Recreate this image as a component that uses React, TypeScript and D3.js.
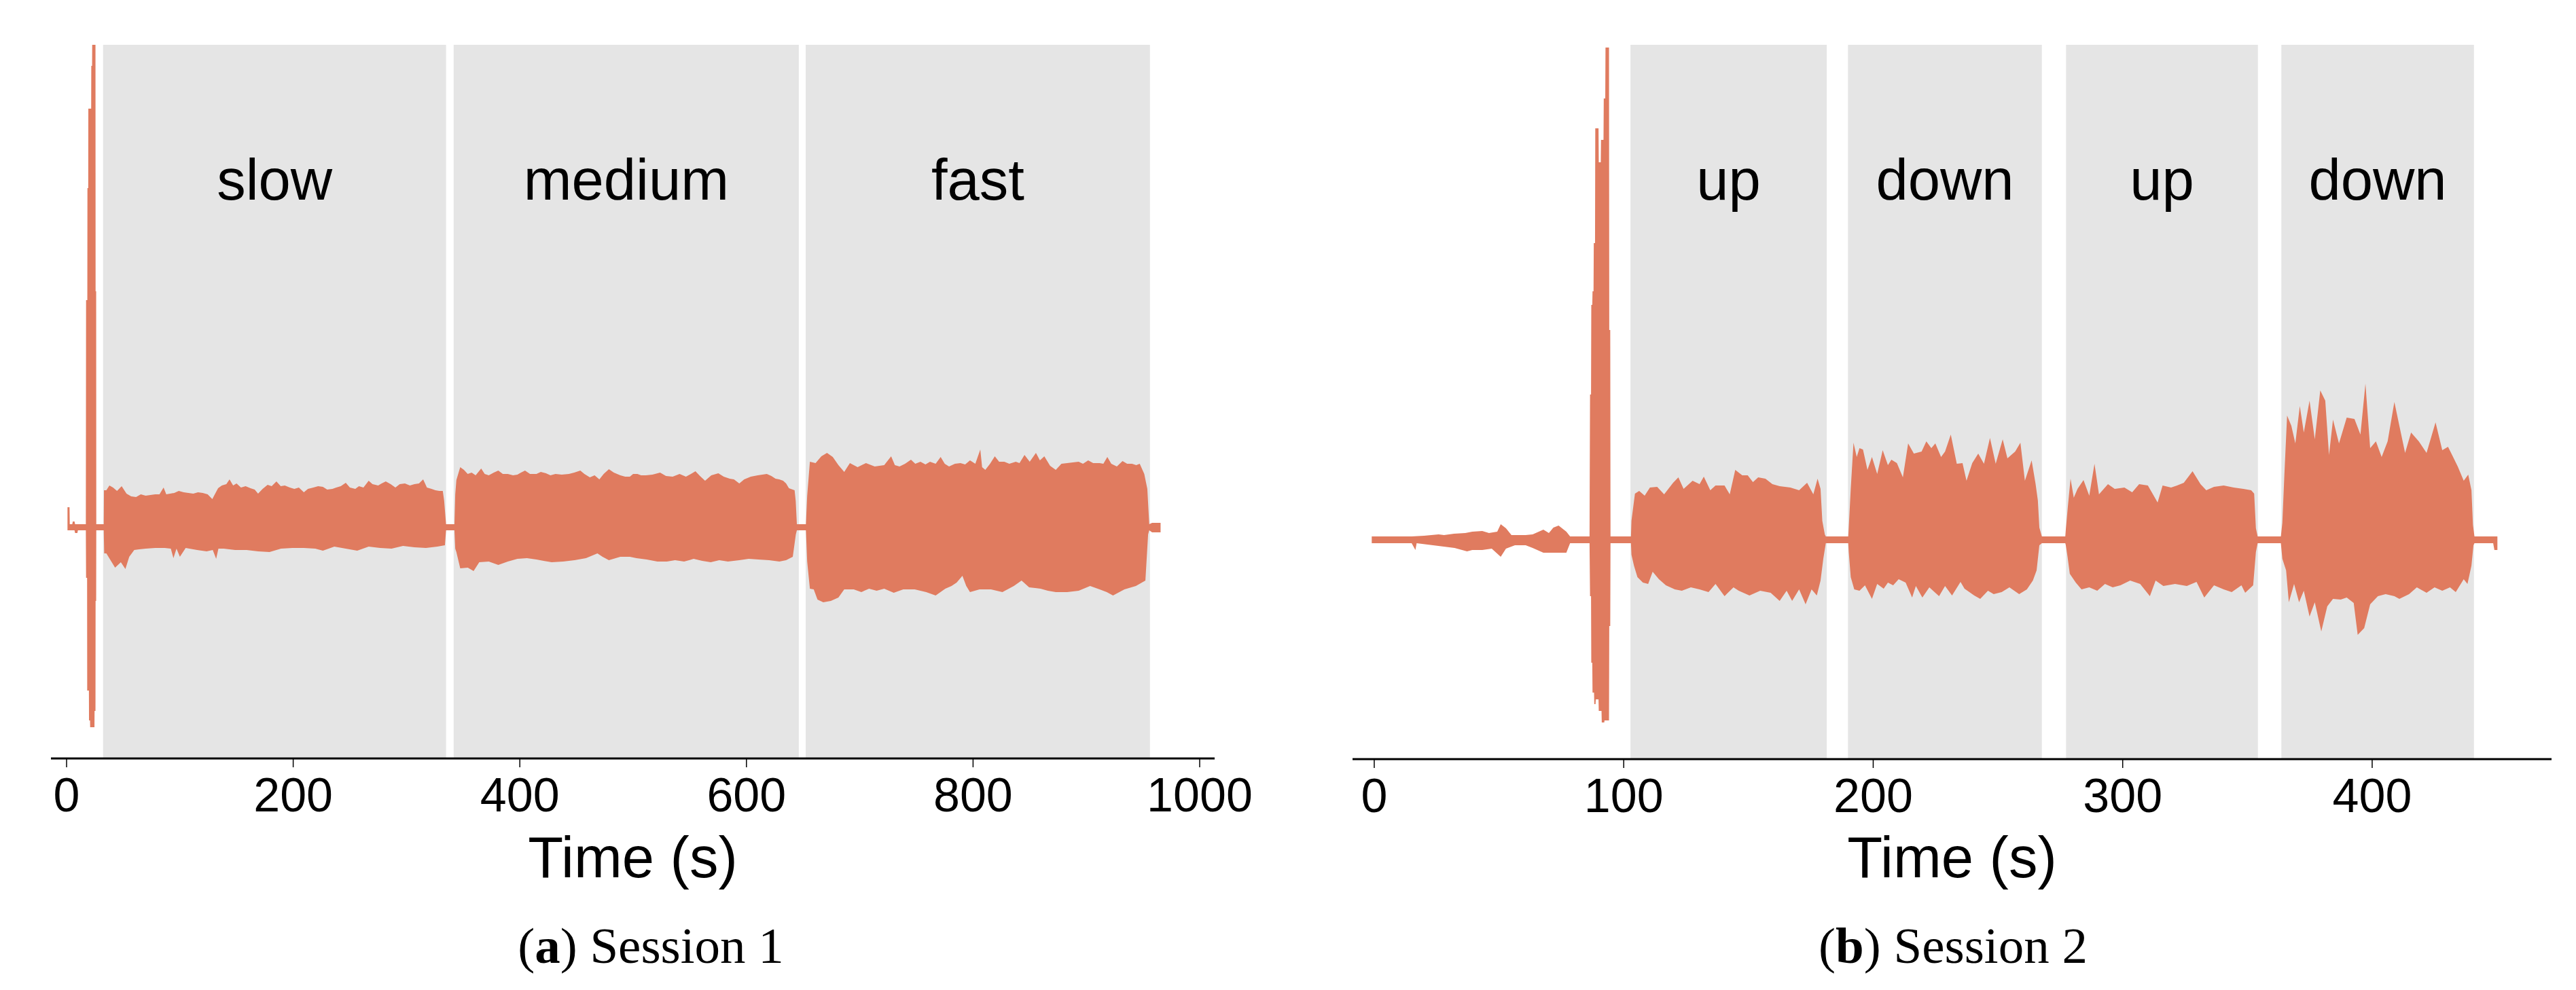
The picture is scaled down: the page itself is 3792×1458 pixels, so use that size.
import React from "react";
import * as d3 from "d3";

type Pt = [number, number];

// envelope of the signal, [time (s), amplitude] — upper edge and lower edge
const session1Upper: Pt[] = [
  [0.8, 0.31], [2.6, 0.31], [2.8, 0.06], [5, 0.06], [5.5, 0.1], [7, 0.1], [7.5, 0.06], [17.0, 0.06],
  [17.2, 3.36], [18.3, 3.36], [18.4, 5.01], [19.1, 5.01], [19.2, 6.18], [21.7, 6.18], [21.8, 6.81],
  [22.5, 6.81], [22.6, 7.12], [25.5, 7.12], [25.6, 3.49], [26.1, 3.49], [26.2, 0.06], [32.8, 0.06],
  [33.0, 0.56], [35.1, 0.56], [37.8, 0.63], [41, 0.6], [44.5, 0.55], [48.6, 0.62], [52.9, 0.51],
  [57, 0.47], [61.3, 0.46], [65.5, 0.5], [69.8, 0.48], [74, 0.49], [78.2, 0.5], [82, 0.5],
  [85.6, 0.6], [88, 0.5], [95.0, 0.52], [99, 0.55], [103.4, 0.53], [107.5, 0.52], [111.8, 0.51],
  [116, 0.53], [120.2, 0.52], [124.5, 0.5], [128.6, 0.43], [133.7, 0.59], [137, 0.63], [141, 0.65],
  [143.8, 0.72], [147, 0.63], [150, 0.66], [153.9, 0.6], [158, 0.62], [162.3, 0.59], [166, 0.57],
  [169.0, 0.51], [173, 0.58], [177.4, 0.64], [181, 0.62], [185.2, 0.69], [189, 0.62], [192.6, 0.63],
  [197, 0.6], [201.0, 0.58], [205, 0.6], [209.4, 0.53], [213, 0.58], [217.8, 0.6], [222, 0.62],
  [226.2, 0.61], [230, 0.57], [234.6, 0.58], [238, 0.6], [242, 0.62], [246.4, 0.67], [250, 0.6],
  [254.8, 0.58], [258, 0.62], [262, 0.6], [266.6, 0.7], [270, 0.65], [275.0, 0.63], [278, 0.66],
  [281.7, 0.69], [286, 0.65], [290.2, 0.6], [294, 0.65], [298.6, 0.66], [303, 0.63], [307.0, 0.65],
  [311, 0.66], [314.7, 0.72], [318, 0.6], [322.1, 0.58], [325.5, 0.56], [328.9, 0.55], [332, 0.55],
  [333.2, 0.41], [334.9, 0.06], [342.3, 0.06],
  [343, 0.5], [344.0, 0.71], [347.4, 0.9], [350.7, 0.86], [354, 0.8], [357.5, 0.82], [361, 0.78],
  [365.9, 0.88], [369, 0.8], [372.6, 0.78], [377, 0.82], [381.0, 0.85], [385, 0.8], [389.4, 0.8],
  [394, 0.78], [397.9, 0.79], [401, 0.82], [404.6, 0.85], [409, 0.8], [414.7, 0.8], [418.5, 0.83],
  [423.1, 0.81], [427, 0.78], [431.5, 0.8], [437, 0.79], [443.3, 0.8], [448, 0.82], [453.4, 0.85],
  [457, 0.8], [461.8, 0.75], [466, 0.78], [470.2, 0.72], [474, 0.8], [478.6, 0.87], [483, 0.82],
  [488.7, 0.78], [493, 0.76], [497.1, 0.76], [500, 0.8], [503.8, 0.8], [507, 0.78], [511.3, 0.78],
  [517, 0.79], [523.8, 0.82], [529, 0.77], [534.9, 0.76], [541, 0.8], [546.6, 0.76], [551, 0.8],
  [555.0, 0.84], [559, 0.77], [563.5, 0.7], [569, 0.78], [575.2, 0.81], [580, 0.76], [585.3, 0.73],
  [589, 0.72], [593.7, 0.66], [598, 0.72], [603.8, 0.76], [610, 0.78], [618.0, 0.8], [622, 0.77],
  [625.7, 0.73], [629, 0.72], [632.4, 0.7], [635, 0.66], [637.5, 0.59], [642.5, 0.56], [643.5, 0.4],
  [644.5, 0.06], [652.5, 0.06],
  [653.6, 0.48], [656, 0.98], [661, 0.96], [666.1, 1.06], [671.1, 1.11], [676.2, 1.05], [681.2, 0.93],
  [686.3, 0.83], [691.3, 0.96], [698.1, 0.9], [705.5, 0.96], [713.2, 0.91], [721.6, 0.93], [727.7, 1.06],
  [731, 0.93], [735.1, 0.91], [740, 0.95], [745.2, 1.01], [749, 0.95], [753.6, 0.98], [758, 0.94],
  [762, 0.98], [767, 0.95], [771.4, 1.05], [775, 0.95], [778.8, 0.91], [784, 0.95], [788.9, 0.96],
  [793, 0.94], [797.3, 1.0], [802, 0.95], [806.4, 1.16], [808, 0.9], [810.8, 0.86], [815, 0.95],
  [819.2, 1.06], [823, 0.98], [827.6, 0.98], [832, 0.95], [837.7, 0.98], [841, 0.96], [845.4, 1.08],
  [850, 0.98], [855.5, 1.11], [859, 1.0], [862.9, 1.06], [868, 0.92], [873, 0.86], [878, 0.95],
  [883.1, 0.96], [888, 0.97], [893.2, 0.98], [897, 0.95], [901.6, 1.0], [906, 0.96], [911.7, 0.96],
  [915, 0.95], [918.5, 1.05], [922, 0.95], [926.9, 0.91], [931.9, 0.99], [936, 0.95], [940.3, 0.95],
  [944, 0.93], [947.1, 0.95], [951.1, 0.8], [953.8, 0.58], [955.5, 0.06], [958, 0.08], [965.5, 0.08],
];

const session1Lower: Pt[] = [
  [0.8, -0.03], [7, -0.03], [7.5, -0.07], [9.5, -0.07], [10, -0.03], [17.0, -0.03],
  [17.2, -0.73], [18.1, -0.73], [18.2, -2.39], [19.7, -2.39], [19.8, -2.83], [20.7, -2.83],
  [20.8, -2.93], [24.6, -2.93], [24.7, -2.69], [25.5, -2.69], [25.6, -1.07], [26.1, -1.07],
  [26.2, -0.03], [32.8, -0.03],
  [33.2, -0.37], [35.1, -0.37], [39.5, -0.49], [42.8, -0.58], [47.9, -0.5], [51.9, -0.6], [55.3, -0.42],
  [59.7, -0.32], [64, -0.31], [69.8, -0.3], [78.2, -0.29], [86.6, -0.29], [92, -0.3], [94.3, -0.44],
  [97, -0.3], [100, -0.42], [105.1, -0.29], [115.2, -0.32], [123.6, -0.34], [129, -0.32], [132, -0.45],
  [134, -0.3], [138.7, -0.3], [148.8, -0.32], [158.9, -0.32], [169, -0.34], [179.1, -0.35],
  [189.2, -0.3], [199.3, -0.29], [209.4, -0.29], [219.5, -0.3], [226.2, -0.33], [236.3, -0.27],
  [246.4, -0.3], [256.5, -0.33], [266.6, -0.27], [276.7, -0.29], [286.8, -0.3], [296.9, -0.26],
  [307, -0.28], [317.1, -0.29], [327.2, -0.27], [333.9, -0.25], [334.9, -0.03], [342.3, -0.03],
  [343, -0.3], [344.0, -0.35], [347.4, -0.59], [354.1, -0.58], [359.2, -0.63], [364.2, -0.5],
  [372.6, -0.49], [381, -0.54], [389.4, -0.49], [397.9, -0.45], [406.3, -0.44], [414.7, -0.46],
  [421, -0.48], [428.1, -0.5], [438.2, -0.49], [448.3, -0.47], [458.4, -0.44], [468.5, -0.37],
  [473, -0.42], [478.6, -0.47], [488.7, -0.42], [497.1, -0.42], [502.9, -0.44], [512, -0.46],
  [521.4, -0.49], [529.8, -0.49], [537, -0.47], [545, -0.49], [553.4, -0.45], [561, -0.48],
  [568.5, -0.5], [576, -0.47], [583.7, -0.49], [593.7, -0.47], [602, -0.45], [610.6, -0.46],
  [620, -0.47], [629.1, -0.49], [635, -0.47], [640.9, -0.42], [643.6, -0.09], [644.5, -0.03],
  [652.5, -0.03],
  [653.6, -0.49], [656, -0.89], [659.4, -0.9], [662.7, -1.05], [667.8, -1.09], [674.5, -1.07],
  [681.2, -1.02], [686.3, -0.9], [694.7, -0.9], [701.4, -0.94], [708.2, -0.89], [714.9, -0.92],
  [721.6, -0.89], [730, -0.95], [738.4, -0.9], [748.5, -0.9], [758.6, -0.94], [767, -0.99],
  [775.5, -0.89], [781, -0.85], [785.5, -0.8], [790.6, -0.7], [794, -0.85], [797.3, -0.94],
  [805.7, -0.9], [815.8, -0.9], [825.9, -0.94], [836, -0.85], [842.8, -0.77], [849.5, -0.87],
  [859.6, -0.89], [866, -0.92], [873, -0.94], [883.1, -0.94], [893.2, -0.92], [903.3, -0.85],
  [911.7, -0.9], [918, -0.94], [923.5, -0.99], [933.6, -0.9], [943.7, -0.85], [952.1, -0.77],
  [954.5, -0.09], [955.5, -0.03], [958, -0.06], [965.5, -0.06],
];

const session2Upper: Pt[] = [
  [-1, 0.05], [15, 0.05], [20, 0.06], [25.8, 0.08], [28, 0.07], [32, 0.09], [36.5, 0.1], [39.3, 0.12],
  [43.3, 0.13], [46, 0.1], [49.3, 0.12], [50.7, 0.23], [52.8, 0.17], [55, 0.07], [60.7, 0.07],
  [63.5, 0.08], [67.8, 0.15], [70, 0.1], [71.8, 0.18], [73.9, 0.21], [77.0, 0.12], [78.5, 0.05],
  [86.3, 0.05],
  [86.5, 2.14], [86.9, 2.14], [87.0, 3.46], [87.4, 3.46], [87.5, 3.66], [87.9, 3.66], [88.0, 4.37],
  [88.5, 4.37], [88.6, 6.06], [89.9, 6.06], [90.0, 5.56], [90.8, 5.56], [90.9, 5.89], [91.9, 5.89],
  [92.0, 6.5], [92.6, 6.5], [92.7, 7.25], [94.1, 7.25], [94.2, 3.09], [94.6, 3.09], [94.7, 0.05],
  [102.9, 0.05],
  [103.1, 0.28], [104.5, 0.68], [106.2, 0.72], [108.4, 0.65], [110.5, 0.77], [113.4, 0.78],
  [116.2, 0.67], [119.8, 0.84], [121.9, 0.92], [124.0, 0.75], [127.6, 0.87], [130.4, 0.82],
  [132.1, 0.93], [134.7, 0.73], [136.8, 0.8], [140.4, 0.8], [142.5, 0.67], [144.7, 1.03],
  [147.5, 0.95], [149.7, 0.95], [151.8, 0.85], [153.9, 0.92], [156.8, 0.9], [159.6, 0.82],
  [162.5, 0.79], [166.8, 0.77], [170.3, 0.73], [173.5, 0.84], [176.0, 0.67], [177.7, 0.9],
  [178.9, 0.75], [179.6, 0.28], [180.6, 0.08], [181.0, 0.05], [190.0, 0.05],
  [190.2, 0.18], [191.0, 0.75], [192.1, 1.43], [193.4, 1.22], [194.5, 1.35], [195.9, 1.33],
  [197.7, 1.03], [199.5, 1.22], [201.6, 0.97], [203.8, 1.32], [205.9, 1.1], [207.3, 1.18],
  [209.5, 1.13], [211.9, 0.92], [214.0, 1.42], [216.3, 1.27], [219.4, 1.3], [221.3, 1.45],
  [223.3, 1.35], [224.9, 1.42], [227.2, 1.22], [228.8, 1.3], [231.1, 1.55], [233.5, 1.12],
  [235.8, 1.13], [237.4, 0.87], [239.7, 1.13], [242.1, 1.27], [244.4, 1.12], [246.8, 1.5],
  [249.1, 1.12], [251.9, 1.48], [253.8, 1.2], [256.9, 1.3], [259.0, 1.43], [260.8, 0.87],
  [263.5, 1.17], [265.1, 0.82], [266.0, 0.58], [266.6, 0.18], [267.6, 0.05], [277.0, 0.05],
  [277.2, 0.15], [278.0, 0.48], [279.1, 0.9], [280.4, 0.62], [281.9, 0.75], [284.3, 0.88],
  [286.6, 0.65], [288.7, 1.12], [290.5, 0.67], [294.1, 0.82], [296.8, 0.75], [300.7, 0.77],
  [303.8, 0.7], [306.6, 0.82], [310.1, 0.8], [314.0, 0.55], [316.0, 0.8], [319.4, 0.77],
  [321.8, 0.8], [324.5, 0.84], [328.0, 1.01], [331.2, 0.82], [333.5, 0.73], [336.6, 0.78],
  [340.5, 0.8], [344.5, 0.77], [348.4, 0.75], [351.5, 0.73], [352.7, 0.68], [353.4, 0.17],
  [354.1, 0.05], [363.4, 0.05],
  [364.0, 0.25], [364.8, 0.95], [365.9, 1.83], [367.6, 1.68], [369.2, 1.42], [371.0, 1.97],
  [372.6, 1.58], [374.9, 2.05], [377.0, 1.48], [379.2, 2.2], [381.2, 2.05], [382.7, 1.25],
  [384.3, 1.77], [386.7, 1.42], [389.8, 1.8], [392.9, 1.78], [395.3, 1.55], [397.3, 2.3],
  [399.2, 1.35], [401.5, 1.45], [403.8, 1.22], [406.2, 1.45], [408.9, 2.03], [410.9, 1.68],
  [413.2, 1.28], [415.6, 1.58], [418.7, 1.45], [421.8, 1.28], [425.4, 1.73], [428.1, 1.32],
  [430.4, 1.37], [432.3, 1.23], [434.3, 1.08], [436.7, 0.87], [438.5, 0.96], [439.8, 0.73],
  [440.4, 0.22], [441.0, 0.05], [450.2, 0.05],
];

const session2Lower: Pt[] = [
  [-1, -0.05], [15, -0.05], [16.5, -0.15], [17, -0.05], [27.9, -0.1], [32.2, -0.12], [37.2, -0.17],
  [39.3, -0.15], [43.3, -0.15], [47.1, -0.13], [50.7, -0.25], [52.8, -0.13], [56.4, -0.08],
  [60.7, -0.08], [63.5, -0.12], [67.8, -0.19], [71.8, -0.19], [73.9, -0.19], [77.0, -0.19],
  [78.5, -0.05], [86.3, -0.05],
  [86.5, -0.83], [86.9, -0.83], [87.0, -1.81], [87.4, -1.81], [87.5, -2.25], [88.1, -2.25],
  [88.2, -2.42], [88.7, -2.42], [88.8, -2.35], [89.9, -2.35], [90.0, -2.52], [91.1, -2.52],
  [91.2, -2.69], [92.2, -2.69], [92.3, -2.66], [94.1, -2.66], [94.2, -1.27], [94.6, -1.27],
  [94.7, -0.05], [102.9, -0.05],
  [103.1, -0.22], [104.1, -0.38], [105.5, -0.55], [107.7, -0.63], [109.8, -0.65], [111.6, -0.47],
  [114.1, -0.58], [116.9, -0.67], [120.5, -0.73], [123.3, -0.75], [126.9, -0.7], [130.4, -0.73],
  [134.0, -0.77], [136.8, -0.65], [140.4, -0.83], [144.0, -0.7], [146.1, -0.75], [150.4, -0.82],
  [154.7, -0.75], [158.9, -0.78], [162.5, -0.9], [165.3, -0.75], [167.5, -0.9], [170.3, -0.73],
  [172.9, -0.95], [175.3, -0.73], [177.4, -0.82], [178.9, -0.6], [180.0, -0.28], [181.0, -0.05],
  [190.0, -0.05],
  [190.2, -0.18], [191.0, -0.55], [192.4, -0.73], [194.5, -0.75], [196.7, -0.67], [199.5, -0.87],
  [201.6, -0.65], [204.2, -0.72], [205.9, -0.63], [208.0, -0.67], [210.2, -0.58], [213.0, -0.63],
  [215.6, -0.85], [217.1, -0.68], [219.7, -0.85], [222.5, -0.7], [226.4, -0.83], [228.8, -0.68],
  [231.6, -0.82], [235.0, -0.62], [236.6, -0.72], [240.5, -0.82], [242.9, -0.87], [246.0, -0.75],
  [248.3, -0.8], [251.5, -0.77], [254.6, -0.7], [258.5, -0.8], [261.6, -0.73], [264.0, -0.6],
  [265.5, -0.45], [266.6, -0.08], [267.6, -0.05], [277.0, -0.05],
  [277.2, -0.08], [277.9, -0.25], [278.8, -0.5], [281.2, -0.63], [283.5, -0.73], [286.6, -0.7],
  [289.8, -0.75], [292.9, -0.65], [296.0, -0.7], [299.1, -0.67], [303.0, -0.6], [307.0, -0.65],
  [310.9, -0.83], [313.2, -0.6], [316.3, -0.68], [321.0, -0.65], [325.7, -0.68], [329.6, -0.62],
  [332.7, -0.85], [336.6, -0.67], [340.5, -0.73], [343.7, -0.77], [347.6, -0.67], [349.1, -0.78],
  [352.3, -0.67], [353.4, -0.18], [354.1, -0.05], [363.4, -0.05],
  [364.0, -0.28], [365.5, -0.45], [366.6, -0.92], [368.7, -0.65], [370.7, -0.92], [372.6, -0.75],
  [374.9, -1.13], [377.0, -0.92], [379.6, -1.35], [382.0, -0.98], [384.3, -0.87], [387.4, -0.88],
  [389.8, -0.85], [392.6, -0.93], [394.2, -1.4], [396.8, -1.3], [399.2, -0.95], [402.3, -0.83],
  [405.4, -0.8], [408.9, -0.83], [410.9, -0.87], [414.8, -0.8], [417.9, -0.7], [421.8, -0.78],
  [425.0, -0.7], [428.1, -0.75], [431.2, -0.7], [433.5, -0.77], [436.7, -0.58], [438.2, -0.65],
  [439.8, -0.38], [440.6, -0.08], [441.0, -0.05], [448.5, -0.05], [449, -0.15], [450.2, -0.15],
];

const session1Phases = ["slow", "medium", "fast"];
const session1Bands: [number, number][] = [[32.2, 334.9], [341.6, 646.2], [652.3, 956.1]];
const session1Ticks = [0, 200, 400, 600, 800, 1000];

const session2Phases = ["up", "down", "up", "down"];
const session2Bands: [number, number][] = [[102.7, 181.4], [189.9, 267.6], [277.3, 354.2], [363.6, 440.8]];
const session2Ticks = [0, 100, 200, 300, 400];

const SIGNAL = "#e07b5f";
const BAND = "#e5e5e5";
const SANS = "'Liberation Sans', Arial, sans-serif";
const SERIF = "'Liberation Serif', 'Times New Roman', serif";

const Panel = (props: {
  xDomain: [number, number];
  xRange: [number, number];
  yDomain: [number, number];
  yRange: [number, number];
  upper: Pt[];
  lower: Pt[];
  bands: [number, number][];
  phases: string[];
  ticks: number[];
  letter: string;
  caption: string;
  captionX: number;
}) => {
  const x = d3.scaleLinear().domain(props.xDomain).range(props.xRange);
  const y = d3.scaleLinear().domain(props.yDomain).range(props.yRange);
  const line = d3
    .line<Pt>()
    .x(d => x(d[0]))
    .y(d => y(d[1]));
  const outline = line(props.upper.concat(props.lower.slice().reverse())) + "Z";
  const [top, bottom] = [props.yRange[1], props.yRange[0]];
  const mid = (props.xRange[0] + props.xRange[1]) / 2;

  return (
    <g>
      {props.bands.map((b, i) => (
        <g key={i}>
          <rect x={x(b[0])} y={top} width={x(b[1]) - x(b[0])} height={bottom - top} fill={BAND}/>
          <text
            x={(x(b[0]) + x(b[1])) / 2}
            y={294}
            textAnchor="middle"
            fontFamily={SANS}
            fontSize={85}
          >
            {props.phases[i]}
          </text>
        </g>
      ))}
      <path d={outline} fill={SIGNAL} stroke="none"/>
      <line x1={props.xRange[0]} x2={props.xRange[1]} y1={bottom} y2={bottom} stroke="#000" strokeWidth={3}/>
      {props.ticks.map(t => (
        <g key={t} transform={`translate(${x(t)},${bottom})`}>
          <line y1={0} y2={13} stroke="#000" strokeWidth={1.5}/>
          <text y={78} textAnchor="middle" fontFamily={SANS} fontSize={70}>{t}</text>
        </g>
      ))}
      <text x={mid} y={1292} textAnchor="middle" fontFamily={SANS} fontSize={85}>Time (s)</text>
      <text x={props.captionX} y={1418} textAnchor="middle" fontFamily={SERIF} fontSize={75}>
        (<tspan fontWeight="bold">{props.letter}</tspan>) {props.caption}
      </text>
    </g>
  );
};

const App = () => (
  <svg
    width={3792}
    height={1458}
    style={{position: "absolute", left: 0, top: 0, background: "#fff"}}
  >
    <rect width={3792} height={1458} fill="#fff"/>
    <Panel
      xDomain={[-13.8, 1013.2]}
      xRange={[75, 1788]}
      yDomain={[-3.39, 7.12]}
      yRange={[1117, 66]}
      upper={session1Upper}
      lower={session1Lower}
      bands={session1Bands}
      phases={session1Phases}
      ticks={session1Ticks}
      letter="a"
      caption="Session 1"
      captionX={958}
    />
    <Panel
      xDomain={[-8.7, 471.9]}
      xRange={[1991, 3756]}
      yDomain={[-3.23, 7.29]}
      yRange={[1118, 66]}
      upper={session2Upper}
      lower={session2Lower}
      bands={session2Bands}
      phases={session2Phases}
      ticks={session2Ticks}
      letter="b"
      caption="Session 2"
      captionX={2875}
    />
  </svg>
);

export default App;
